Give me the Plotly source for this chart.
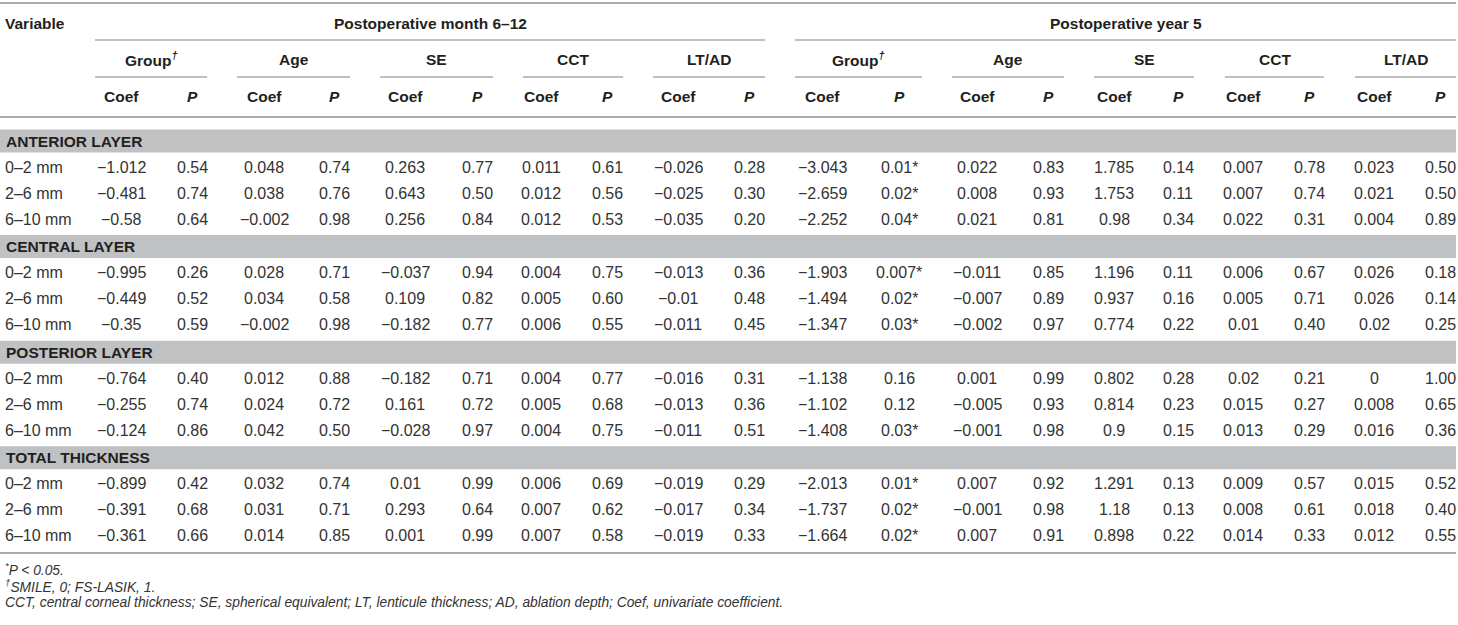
import plotly.graph_objects as go

# ---------------- data ----------------
periods = ["Postoperative month 6–12", "Postoperative year 5"]
variables = ["Group<sup><i>†</i></sup>", "Age", "SE", "CCT", "LT/AD"]
stat_labels = ["Coef", "<i>P</i>"]
sections = ["ANTERIOR LAYER", "CENTRAL LAYER", "POSTERIOR LAYER", "TOTAL THICKNESS"]
zones = ["0–2 mm", "2–6 mm", "6–10 mm"]

# rows: anterior(0-2,2-6,6-10), central(...), posterior(...), total(...)
# cols: Group, Age, SE, CCT, LT/AD
month_coef = [
    ["−1.012", "0.048", "0.263", "0.011", "−0.026"],
    ["−0.481", "0.038", "0.643", "0.012", "−0.025"],
    ["−0.58", "−0.002", "0.256", "0.012", "−0.035"],
    ["−0.995", "0.028", "−0.037", "0.004", "−0.013"],
    ["−0.449", "0.034", "0.109", "0.005", "−0.01"],
    ["−0.35", "−0.002", "−0.182", "0.006", "−0.011"],
    ["−0.764", "0.012", "−0.182", "0.004", "−0.016"],
    ["−0.255", "0.024", "0.161", "0.005", "−0.013"],
    ["−0.124", "0.042", "−0.028", "0.004", "−0.011"],
    ["−0.899", "0.032", "0.01", "0.006", "−0.019"],
    ["−0.391", "0.031", "0.293", "0.007", "−0.017"],
    ["−0.361", "0.014", "0.001", "0.007", "−0.019"],
]
month_p = [
    ["0.54", "0.74", "0.77", "0.61", "0.28"],
    ["0.74", "0.76", "0.50", "0.56", "0.30"],
    ["0.64", "0.98", "0.84", "0.53", "0.20"],
    ["0.26", "0.71", "0.94", "0.75", "0.36"],
    ["0.52", "0.58", "0.82", "0.60", "0.48"],
    ["0.59", "0.98", "0.77", "0.55", "0.45"],
    ["0.40", "0.88", "0.71", "0.77", "0.31"],
    ["0.74", "0.72", "0.72", "0.68", "0.36"],
    ["0.86", "0.50", "0.97", "0.75", "0.51"],
    ["0.42", "0.74", "0.99", "0.69", "0.29"],
    ["0.68", "0.71", "0.64", "0.62", "0.34"],
    ["0.66", "0.85", "0.99", "0.58", "0.33"],
]
year_coef = [
    ["−3.043", "0.022", "1.785", "0.007", "0.023"],
    ["−2.659", "0.008", "1.753", "0.007", "0.021"],
    ["−2.252", "0.021", "0.98", "0.022", "0.004"],
    ["−1.903", "−0.011", "1.196", "0.006", "0.026"],
    ["−1.494", "−0.007", "0.937", "0.005", "0.026"],
    ["−1.347", "−0.002", "0.774", "0.01", "0.02"],
    ["−1.138", "0.001", "0.802", "0.02", "0"],
    ["−1.102", "−0.005", "0.814", "0.015", "0.008"],
    ["−1.408", "−0.001", "0.9", "0.013", "0.016"],
    ["−2.013", "0.007", "1.291", "0.009", "0.015"],
    ["−1.737", "−0.001", "1.18", "0.008", "0.018"],
    ["−1.664", "0.007", "0.898", "0.014", "0.012"],
]
year_p = [
    ["0.01*", "0.83", "0.14", "0.78", "0.50"],
    ["0.02*", "0.93", "0.11", "0.74", "0.50"],
    ["0.04*", "0.81", "0.34", "0.31", "0.89"],
    ["0.007*", "0.85", "0.11", "0.67", "0.18"],
    ["0.02*", "0.89", "0.16", "0.71", "0.14"],
    ["0.03*", "0.97", "0.22", "0.40", "0.25"],
    ["0.16", "0.99", "0.28", "0.21", "1.00"],
    ["0.12", "0.93", "0.23", "0.27", "0.65"],
    ["0.03*", "0.98", "0.15", "0.29", "0.36"],
    ["0.01*", "0.92", "0.13", "0.57", "0.52"],
    ["0.02*", "0.98", "0.13", "0.61", "0.40"],
    ["0.02*", "0.91", "0.22", "0.33", "0.55"],
]
footnotes = [
    "<sup>*</sup>P &lt; 0.05.",
    "<sup>†</sup>SMILE, 0; FS-LASIK, 1.",
    "CCT, central corneal thickness; SE, spherical equivalent; LT, lenticule thickness; "
    "AD, ablation depth; Coef, univariate coefficient.",
]

# ---------------- layout geometry (pixels) ----------------
W, H = 1458, 625
FONT = "Liberation Sans, Arial, Helvetica, sans-serif"
TXT = "#231f20"
DATA_TXT = "#333333"
RULE = "#a9abae"
BAND = "#bfc1c3"
FS_HEAD = 15.5
FS_DATA = 16

coef_x = [[121, 264, 405, 541, 678], [822, 977, 1114, 1243, 1374]]
p_x = [[192, 334, 477, 607, 749], [899, 1048, 1178, 1309, 1440]]
under = [
    [(95, 207), (237, 350), (380, 493), (523, 623), (653, 765)],
    [(795, 922), (952, 1064), (1094, 1194), (1225, 1324), (1355, 1456)],
]
Y_TOP_RULE, Y_H1, Y_H1_LINE, Y_H2, Y_H2_LINE, Y_H3, Y_HEAD_RULE = 3, 23, 40, 59, 77, 96, 117
Y_BAND0, SECTION_PITCH, ROW_PITCH, BAND_H = 141, 105.6, 26, 23
Y_BOTTOM_RULE = 553
Y_FOOT = [569, 586, 602]
X_LEFT = 3

values = [(month_coef, month_p), (year_coef, year_p)]

fig = go.Figure()
ann = []
shapes = []


def text(x, y, s, anchor="center", size=FS_DATA, bold=False, color=DATA_TXT):
    if bold:
        s = "<b>" + s + "</b>"
    ann.append(dict(x=x, y=y, xref="x", yref="y", text=s, showarrow=False,
                    xanchor=anchor, yanchor="middle",
                    font=dict(family=FONT, size=size, color=color)))


def hline(x0, x1, y, w=1.6, color=RULE):
    shapes.append(dict(type="line", xref="x", yref="y", x0=x0, x1=x1, y0=y, y1=y,
                       line=dict(color=color, width=w), layer="below"))


# header rules
hline(0, 1456, Y_TOP_RULE, 2)
hline(0, 1456, Y_HEAD_RULE, 2)
hline(0, 1456, Y_BOTTOM_RULE, 2)

text(X_LEFT, Y_H1, "Variable", anchor="left", bold=True, size=FS_HEAD, color=TXT)
for pi, per in enumerate(periods):
    x0 = under[pi][0][0]
    x1 = under[pi][-1][1]
    text((x0 + x1) / 2, Y_H1, per, bold=True, size=FS_HEAD, color=TXT)
    hline(x0, x1, Y_H1_LINE, 1.6)
    for vi, var in enumerate(variables):
        a, b = under[pi][vi]
        text((a + b) / 2, Y_H2, var, bold=True, size=FS_HEAD, color=TXT)
        hline(a, b, Y_H2_LINE, 1.6)
        text(coef_x[pi][vi], Y_H3, stat_labels[0], bold=True, size=FS_HEAD, color=TXT)
        text(p_x[pi][vi], Y_H3, stat_labels[1], bold=True, size=FS_HEAD, color=TXT)

# body
for si, sec in enumerate(sections):
    yb = Y_BAND0 + si * SECTION_PITCH
    shapes.append(dict(type="rect", xref="x", yref="y", x0=0, x1=1456,
                       y0=yb - BAND_H / 2, y1=yb + BAND_H / 2,
                       fillcolor=BAND, line=dict(width=0), layer="below"))
    text(X_LEFT + 1, yb, sec, anchor="left", bold=True, size=FS_HEAD, color=TXT)
    for zi, zone in enumerate(zones):
        r = si * len(zones) + zi
        y = yb + ROW_PITCH * (zi + 1)
        text(X_LEFT, y, zone, anchor="left")
        for pi in range(len(periods)):
            cvals, pvals = values[pi]
            for vi in range(len(variables)):
                text(coef_x[pi][vi], y, cvals[r][vi])
                text(p_x[pi][vi], y, pvals[r][vi])

for fi, fn in enumerate(footnotes):
    text(X_LEFT, Y_FOOT[fi], "<i>" + fn + "</i>", anchor="left", size=13.8, color="#333333")

fig.update_layout(
    width=W, height=H, margin=dict(l=0, r=0, t=0, b=0),
    paper_bgcolor="white", plot_bgcolor="white",
    xaxis=dict(range=[0, W], visible=False, fixedrange=True),
    yaxis=dict(range=[H, 0], visible=False, fixedrange=True),
    annotations=ann, shapes=shapes, showlegend=False,
)

fig.write_html("out.html", post_script="document.body.style.margin='0';",
               config={"displayModeBar": False})
